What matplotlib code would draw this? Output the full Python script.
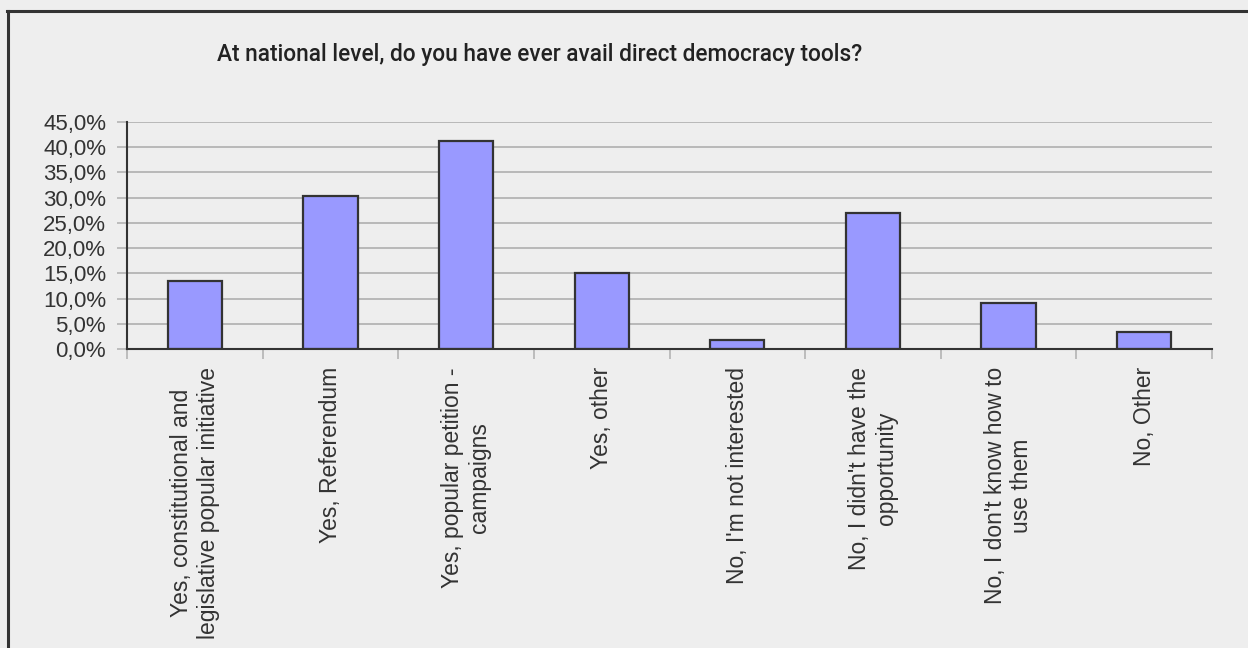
import matplotlib
matplotlib.use("Agg")
import matplotlib.pyplot as plt
from matplotlib.lines import Line2D
from matplotlib.ticker import FixedLocator, FuncFormatter

title = "At national level, do you have ever avail direct democracy tools?"
categories = [
    "Yes, constitutional and\nlegislative popular initiative",
    "Yes, Referendum",
    "Yes, popular petition -\ncampaigns",
    "Yes, other",
    "No, I'm not interested",
    "No, I didn't have the\nopportunity",
    "No, I don't know how to\nuse them",
    "No, Other",
]
values = [13.4, 30.3, 41.3, 15.1, 1.7, 26.9, 9.2, 3.4]
yticks = [0, 5, 10, 15, 20, 25, 30, 35, 40, 45]

BG = "#EEEEEE"
TXT = "#333333"
plt.rcParams['font.family'] = ['Liberation Sans', 'DejaVu Sans']

fig = plt.figure(figsize=(12.48, 6.48), dpi=100, facecolor=BG)
ax = fig.add_axes([127/1248, 1-349/648, (1212-127)/1248, (349-122)/648])
ax.set_facecolor(BG)

x = list(range(len(categories)))
ax.bar(x, values, width=0.4, color="#9999FF", edgecolor="#333333", linewidth=1.6, zorder=3)

ax.set_xlim(-0.5, len(categories) - 0.5)
ax.set_ylim(0, 45)
ax.yaxis.set_major_locator(FixedLocator(yticks))
ax.yaxis.set_major_formatter(FuncFormatter(lambda v, p: f"{v:.1f}%".replace(".", ",")))
ax.grid(axis="y", color="#B4B4B4", linewidth=1.3, zorder=0)
ax.set_axisbelow(True)

ax.set_xticks(x)
ax.set_xticklabels(categories, rotation=90, ha="center", va="top", multialignment="center",
                   fontsize=16.5, color=TXT)
ax.set_xticks([i - 0.5 for i in range(len(categories) + 1)], minor=True)
ax.tick_params(axis="x", which="major", length=0, pad=13)
ax.tick_params(axis="x", which="minor", length=7, color="#B4B4B4", width=1.2)
ax.tick_params(axis="y", length=7, color="#B4B4B4", width=1.2, pad=8, labelsize=16, labelcolor=TXT)

for s in ["top", "right"]:
    ax.spines[s].set_visible(False)
for s in ["left", "bottom"]:
    ax.spines[s].set_color("#333333")
    ax.spines[s].set_linewidth(1.5)
    ax.spines[s].set_zorder(4)

fig.text(540/1248, 1-54/648, title, ha="center", va="center", fontsize=16.3,
         fontweight="medium", color="#222222", family=['Roboto', 'Liberation Sans', 'DejaVu Sans'])

# outer frame (left and top)
fig.add_artist(Line2D([7.5/1248, 7.5/1248], [0, 1-10.5/648], transform=fig.transFigure,
                      color="#333333", linewidth=2.2))
fig.add_artist(Line2D([6.5/1248, 1], [1-10.5/648, 1-10.5/648], transform=fig.transFigure,
                      color="#333333", linewidth=2.2))

fig.savefig("out.png", dpi=100, facecolor=BG)
